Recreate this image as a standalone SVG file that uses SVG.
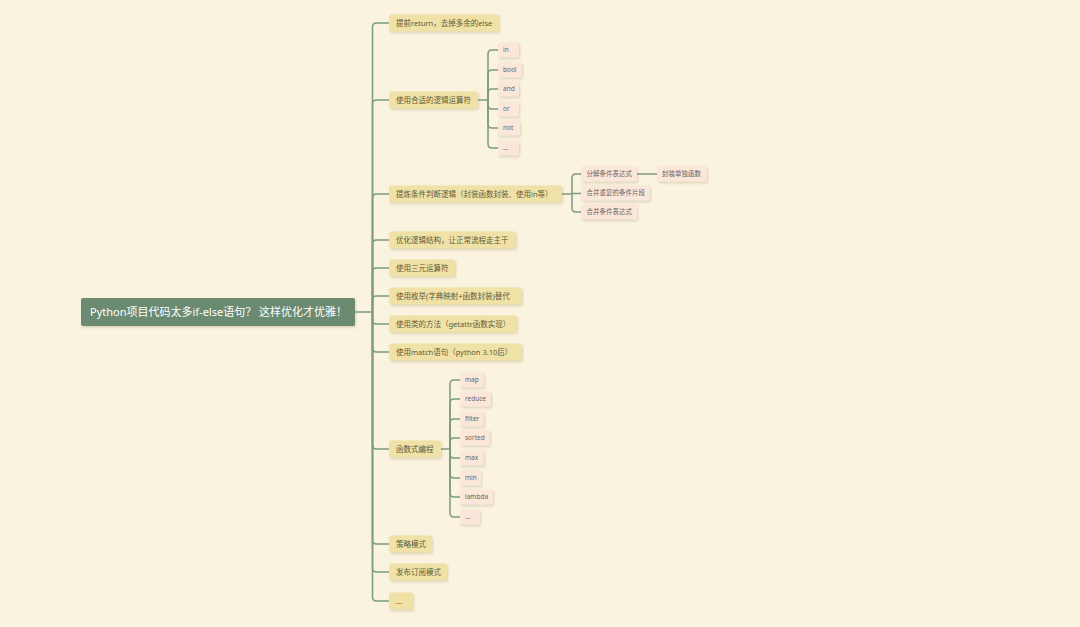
<svg xmlns="http://www.w3.org/2000/svg" width="1080" height="627" viewBox="0 0 1080 627">
<defs>
<filter id="sh" x="-20%" y="-30%" width="140%" height="170%"><feDropShadow dx="1" dy="1.5" stdDeviation="1" flood-color="#7a6a40" flood-opacity="0.25"/></filter>
<style>
.root rect{fill:#6b8a71;filter:url(#sh)}
.root text{fill:#ffffff;font-size:11px}
.l1 rect{fill:#f0e2a6;filter:url(#sh)}
.l1 text{fill:#5e5a3a;font-size:7.5px}
.lf rect{fill:#fae7da;filter:url(#sh)}
.lf text{fill:#6f6560;font-size:6.5px}
text{font-family:"Noto Sans","Noto Sans CJK SC",sans-serif}
.c path{fill:none;stroke:#7d9b80;stroke-width:1.5}
</style>
</defs>
<rect width="1080" height="627" fill="#faf3df"/>
<g class="c" id="connectors">
<path d="M355 312H372.5"/>
<path d="M372.5 312V27Q372.5 23 376.5 23H389"/>
<path d="M372.5 312V104Q372.5 100 376.5 100H389"/>
<path d="M372.5 312V198Q372.5 194 376.5 194H389"/>
<path d="M372.5 312V244Q372.5 240 376.5 240H389"/>
<path d="M372.5 312V272Q372.5 268 376.5 268H389"/>
<path d="M372.5 312V300Q372.5 296 376.5 296H389"/>
<path d="M372.5 312V320Q372.5 324 376.5 324H389"/>
<path d="M372.5 312V348Q372.5 352 376.5 352H389"/>
<path d="M372.5 312V445Q372.5 449 376.5 449H389"/>
<path d="M372.5 312V540Q372.5 544 376.5 544H389"/>
<path d="M372.5 312V568Q372.5 572 376.5 572H389"/>
<path d="M372.5 312V597Q372.5 601 376.5 601H389"/>
<path d="M478 100H488"/>
<path d="M488 100V54Q488 50 492 50H498"/>
<path d="M488 100V74Q488 70 492 70H498"/>
<path d="M488 100V93Q488 89 492 89H498"/>
<path d="M488 100V105Q488 109 492 109H498"/>
<path d="M488 100V124Q488 128 492 128H498"/>
<path d="M488 100V144Q488 148 492 148H498"/>
<path d="M562 194H572"/>
<path d="M572 194V178Q572 174 576 174H581"/>
<path d="M572 194V193.5H581"/>
<path d="M572 194V208Q572 212 576 212H581"/>
<path d="M637 174H657"/>
<path d="M441 449H450"/>
<path d="M450 449V384Q450 380 454 380H460"/>
<path d="M450 449V403Q450 399 454 399H460"/>
<path d="M450 449V423Q450 419 454 419H460"/>
<path d="M450 449V442Q450 438 454 438H460"/>
<path d="M450 449V454Q450 458 454 458H460"/>
<path d="M450 449V474Q450 478 454 478H460"/>
<path d="M450 449V493Q450 497 454 497H460"/>
<path d="M450 449V513Q450 517 454 517H460"/>
</g>
<g id="root" class="root"><rect x="81" y="298" width="274" height="28" rx="2"/><text x="90" y="316">Python项目代码太多if-else语句？ 这样优化才优雅！</text></g>
<g id="n1" class="l1"><rect x="389" y="14.5" width="110" height="17" rx="2"/><text x="396" y="25.7">提前return，去掉多余的else</text></g>
<g id="n2" class="l1"><rect x="389" y="91.5" width="89" height="17" rx="2"/><text x="396" y="102.7">使用合适的逻辑运算符</text></g>
<g id="n2a" class="lf"><rect x="498" y="42.5" width="21" height="15" rx="2"/><text x="503" y="52.3">in</text></g>
<g id="n2b" class="lf"><rect x="498" y="62.5" width="24" height="15" rx="2"/><text x="503" y="72.3">bool</text></g>
<g id="n2c" class="lf"><rect x="498" y="81.5" width="21" height="15" rx="2"/><text x="503" y="91.3">and</text></g>
<g id="n2d" class="lf"><rect x="498" y="101.5" width="21" height="15" rx="2"/><text x="503" y="111.3">or</text></g>
<g id="n2e" class="lf"><rect x="498" y="120.5" width="22" height="15" rx="2"/><text x="503" y="130.3">not</text></g>
<g id="n2f" class="lf"><rect x="498" y="140.5" width="21" height="15" rx="2"/><text x="503" y="150.3">...</text></g>
<g id="n3" class="l1"><rect x="389" y="185.5" width="173" height="17" rx="2"/><text x="396" y="196.7">提炼条件判断逻辑（封装函数封装、使用in等）</text></g>
<g id="n3a" class="lf"><rect x="581" y="166.5" width="56" height="15" rx="2"/><text x="586.5" y="176.3">分解条件表达式</text></g>
<g id="n3a1" class="lf"><rect x="657" y="166.5" width="50" height="15" rx="2"/><text x="662" y="176.3">封装单独函数</text></g>
<g id="n3b" class="lf"><rect x="581" y="185.5" width="69" height="15" rx="2"/><text x="586.5" y="195.3">合并重复的条件片段</text></g>
<g id="n3c" class="lf"><rect x="581" y="204.5" width="56" height="15" rx="2"/><text x="586.5" y="214.3">合并条件表达式</text></g>
<g id="n4" class="l1"><rect x="389" y="231.5" width="127" height="17" rx="2"/><text x="396" y="242.7">优化逻辑结构，让正常流程走主干</text></g>
<g id="n5" class="l1"><rect x="389" y="259.5" width="66" height="17" rx="2"/><text x="396" y="270.7">使用三元运算符</text></g>
<g id="n6" class="l1"><rect x="389" y="287.5" width="133" height="17" rx="2"/><text x="396" y="298.7">使用枚举(字典映射+函数封装)替代</text></g>
<g id="n7" class="l1"><rect x="389" y="315.5" width="128" height="17" rx="2"/><text x="396" y="326.7">使用类的方法（getattr函数实现）</text></g>
<g id="n8" class="l1"><rect x="389" y="343.5" width="133" height="17" rx="2"/><text x="396" y="354.7">使用match语句（python 3.10后）</text></g>
<g id="n9" class="l1"><rect x="389" y="440.5" width="52" height="17" rx="2"/><text x="396" y="451.7">函数式编程</text></g>
<g id="n9a" class="lf"><rect x="460" y="372.5" width="24" height="15" rx="2"/><text x="465" y="382.3">map</text></g>
<g id="n9b" class="lf"><rect x="460" y="391.5" width="31" height="15" rx="2"/><text x="465" y="401.3">reduce</text></g>
<g id="n9c" class="lf"><rect x="460" y="411.5" width="24" height="15" rx="2"/><text x="465" y="421.3">filter</text></g>
<g id="n9d" class="lf"><rect x="460" y="430.5" width="30" height="15" rx="2"/><text x="465" y="440.3">sorted</text></g>
<g id="n9e" class="lf"><rect x="460" y="450.5" width="24" height="15" rx="2"/><text x="465" y="460.3">max</text></g>
<g id="n9f" class="lf"><rect x="460" y="470.5" width="21" height="15" rx="2"/><text x="465" y="480.3">min</text></g>
<g id="n9g" class="lf"><rect x="460" y="489.5" width="33" height="15" rx="2"/><text x="465" y="499.3">lambda</text></g>
<g id="n9h" class="lf"><rect x="460" y="509.5" width="20" height="15" rx="2"/><text x="465" y="519.3">...</text></g>
<g id="n10" class="l1"><rect x="389" y="535.5" width="43" height="17" rx="2"/><text x="396" y="546.7">策略模式</text></g>
<g id="n11" class="l1"><rect x="389" y="563.5" width="58" height="17" rx="2"/><text x="396" y="574.7">发布订阅模式</text></g>
<g id="n12" class="l1"><rect x="389" y="592.5" width="24" height="17" rx="2"/><text x="396" y="603.7">...</text></g>
</svg>
